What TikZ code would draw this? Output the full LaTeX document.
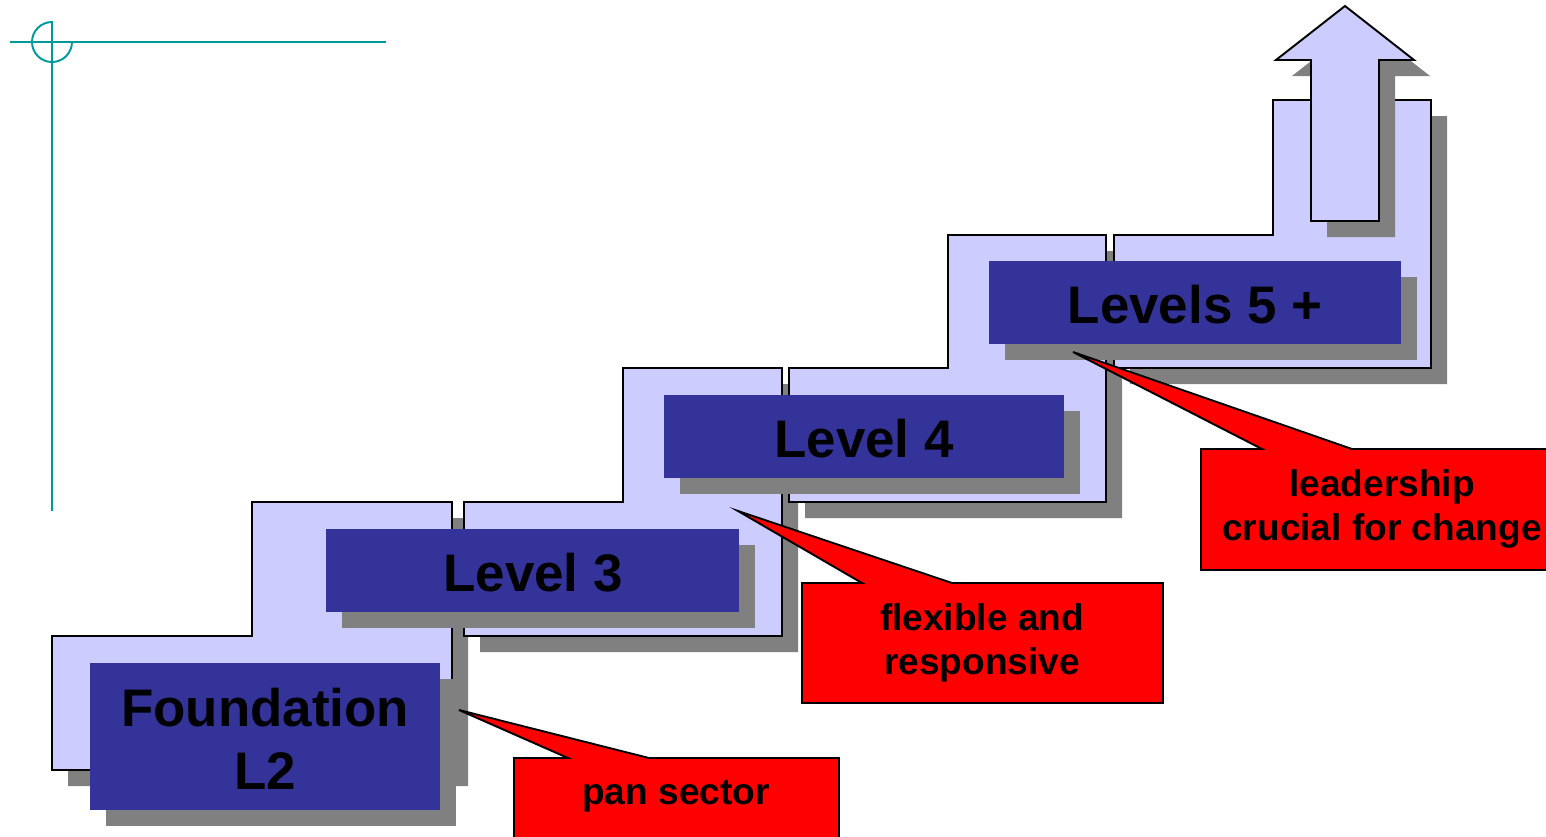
\documentclass[tikz,border=0pt]{standalone}
\usepackage{fontspec}
\setmainfont{Liberation Sans}
\definecolor{stepfill}{HTML}{CCCCFF}
\definecolor{levelblue}{HTML}{333399}
\definecolor{shadowgray}{HTML}{808080}
\definecolor{guideteal}{HTML}{009999}

\begin{document}
\begin{tikzpicture}[x=0.2mm,y=-0.2mm,
    stepshape/.style={fill=stepfill,draw=black,line width=1.1pt},
    shade/.style={fill=shadowgray,shift={(16,16)}},
    levelbox/.style={fill=levelblue},
    levellabel/.style={font=\bfseries\fontsize{30.1}{36}\selectfont,align=center},
    callout/.style={fill=red,draw=black,line width=1.1pt},
    calloutlabel/.style={font=\bfseries\fontsize{21.1}{25.4}\selectfont,align=center},
    guide/.style={draw=guideteal,line width=1.1pt}]
        \clip (0,0) rectangle (1546,836);

        \draw[guide] (10,42) -- (386,42);
        \draw[guide] (52,21) -- (52,511);
        \draw[guide] (72,42) arc (0:270:20);

        \fill[shade] (52,770) -- (52,636) -- (252,636) -- (252,502) -- (452,502) -- (452,770) -- cycle;
        \path[stepshape] (52,770) -- (52,636) -- (252,636) -- (252,502) -- (452,502) -- (452,770) -- cycle;
        \fill[shade] (464,636) -- (464,502) -- (623,502) -- (623,368) -- (782,368) -- (782,636) -- cycle;
        \path[stepshape] (464,636) -- (464,502) -- (623,502) -- (623,368) -- (782,368) -- (782,636) -- cycle;
        \fill[shade] (789,502) -- (789,368) -- (948,368) -- (948,235) -- (1106,235) -- (1106,502) -- cycle;
        \path[stepshape] (789,502) -- (789,368) -- (948,368) -- (948,235) -- (1106,235) -- (1106,502) -- cycle;
        \fill[shade] (1114,368) -- (1114,235) -- (1273,235) -- (1273,100) -- (1431,100) -- (1431,368) -- cycle;
        \path[stepshape] (1114,368) -- (1114,235) -- (1273,235) -- (1273,100) -- (1431,100) -- (1431,368) -- cycle;
        \fill[shade] (1311,221) -- (1311,60) -- (1276,60) -- (1345,6) -- (1414,60) -- (1379,60) -- (1379,221) -- cycle;
        \path[stepshape] (1311,221) -- (1311,60) -- (1276,60) -- (1345,6) -- (1414,60) -- (1379,60) -- (1379,221) -- cycle;

        \fill[shade] (90,663) rectangle (440,810);
        \fill[levelbox] (90,663) rectangle (440,810);
        \fill[shade] (326,529) rectangle (739,612);
        \fill[levelbox] (326,529) rectangle (739,612);
        \fill[shade] (664,395) rectangle (1064,478);
        \fill[levelbox] (664,395) rectangle (1064,478);
        \fill[shade] (989,261) rectangle (1401,344);
        \fill[levelbox] (989,261) rectangle (1401,344);

        \node[levellabel] (found) at (265,739) {Foundation\\L2};
        \node[levellabel] (lvthree) at (533,573) {Level 3};
        \node[levellabel] (lvfour) at (864,439) {Level 4};
        \node[levellabel] (lvfive) at (1195,305) {Levels 5 +};

        \coordinate (pantip) at (459,710);
        \coordinate (flextip) at (738,511);
        \coordinate (leadtip) at (1073,352);
        \path[callout] (514,758) -- (568,758) -- (pantip) -- (649,758) -- (839,758) -- (839,850) -- (514,850) -- cycle;
        \path[callout] (802,583) -- (862,583) -- (flextip) -- (952,583) -- (1163,583) -- (1163,703) -- (802,703) -- cycle;
        \path[callout] (1201,449) -- (1262,449) -- (leadtip) -- (1352,449) -- (1570,449) -- (1570,570) -- (1201,570) -- cycle;

        \node[calloutlabel] (pan) at (676,796) {pan sector};
        \node[calloutlabel] (flex) at (982,643) {flexible and\\responsive};
        \node[calloutlabel] (lead) at (1382,509) {leadership\\crucial for change};
    \end{tikzpicture}
\end{document}
